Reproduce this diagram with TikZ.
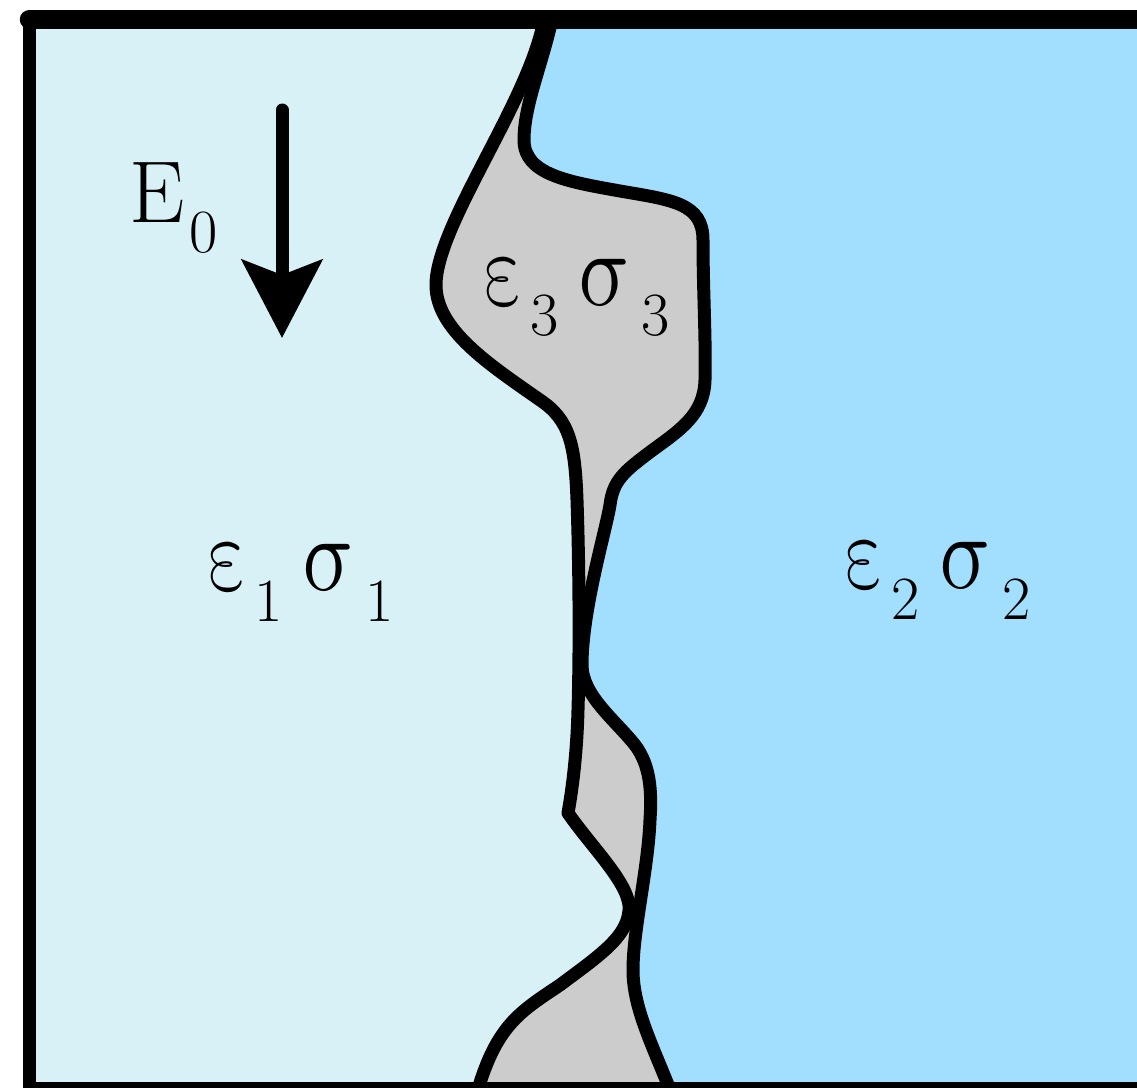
\documentclass[tikz,border=0pt]{standalone}
\definecolor{mediumone}{RGB}{216,241,246}
\definecolor{mediumtwo}{RGB}{162,223,255}
\definecolor{mediumthree}{RGB}{204,204,204}
\usetikzlibrary{arrows.meta}
\newcommand{\lsub}[1]{\raisebox{-0.34em}{\fontsize{17.4}{20}\selectfont #1}}
%% boundary between medium 1 and medium 3
\newcommand{\innercurve}{(544,19) .. controls (530,100) and (436,225) .. (436,285)
  .. controls (436,330) and (490,365) .. (540,400)
  .. controls (570,420) and (575,445) .. (577,500)
  .. controls (579,560) and (580,640) .. (578,710)
  .. controls (577,750) and (573,785) .. (568,813)
  .. controls (590,845) and (626,880) .. (629,905)
  .. controls (631,935) and (600,955) .. (560,985)
  .. controls (520,1012) and (495,1025) .. (475,1100)}
%% boundary between medium 3 and medium 2
\newcommand{\outercurve}{(552,19) .. controls (542,65) and (524,105) .. (524,140)
  .. controls (524,175) and (570,182) .. (620,191)
  .. controls (672,200) and (703,203) .. (703,240)
  .. controls (703,290) and (706,340) .. (705,380)
  .. controls (704,415) and (680,430) .. (650,452)
  .. controls (625,471) and (613,480) .. (610,505)
  .. controls (606,530) and (582,610) .. (582,665)
  .. controls (582,695) and (615,720) .. (635,745)
  .. controls (650,765) and (652,790) .. (650,820)
  .. controls (648,870) and (633,930) .. (633,970)
  .. controls (633,1010) and (655,1050) .. (674,1100)}

\begin{document}
\begin{tikzpicture}[x=0.02cm, y=-0.02cm,
  wall/.style={line width=0.26cm, line join=round, line cap=round},
  lbl/.style={anchor=base west, inner sep=0pt, scale=2.01, font=\fontsize{24.88}{30}\selectfont},
  idx/.style={anchor=base west, inner sep=0pt, scale=2.01, font=\fontsize{17.4}{20}\selectfont},
  grk/.style={anchor=base west, inner sep=0pt, xscale=2.01, yscale=2.45, xslant=-0.25, font=\fontsize{24.88}{30}\selectfont},
  field/.style={line width=0.26cm, line cap=round, -{Stealth[length=1.56cm, width=1.6cm, inset=0.3cm]}}
]
  \useasboundingbox (0,0) rectangle (1137,1088);

  %% Media
  \begin{scope}
    \clip (29.5,19.5) rectangle (1160,1088.5);
    \fill[mediumone] (29.5,19.5) rectangle (1160,1088.5);
    \fill[mediumthree] \innercurve -- (1160,1100) -- (1160,0) -- cycle;
    \fill[mediumtwo] \outercurve -- (1160,1100) -- (1160,0) -- cycle;
  \end{scope}

  %% Interfaces
  \draw[wall] \innercurve;
  \draw[wall] \outercurve;

  %% Frame
  \draw[wall] (29.5,19.5) rectangle (1160,1088.5);
  \draw[line width=0.39cm, line cap=round] (29.5,19.5) -- (1160,19.5);

  %% Applied field
  \coordinate (etail) at (282,110);
  \coordinate (ehead) at (282,338);
  \draw[field] (etail) -- (ehead);
  \node[lbl] (efield) at (129,223) {E\hspace{0.05em}\lsub{0}};

  %% Permittivity and conductivity of each medium
  \foreach \n/\px/\py in {1/211/590, 2/848/588, 3/487/305} {
    \node[grk] (eps\n) at (\px,\py) {$\varepsilon$};
    \node[idx] (epsidx\n) at (\px+43,\py+31) {\n};
    \node[grk, xscale=1.08] (sig\n) at (\px+95,\py) {$\sigma$};
    \node[idx] (sigidx\n) at (\px+154,\py+31) {\n};
  }
\end{tikzpicture}
\end{document}
